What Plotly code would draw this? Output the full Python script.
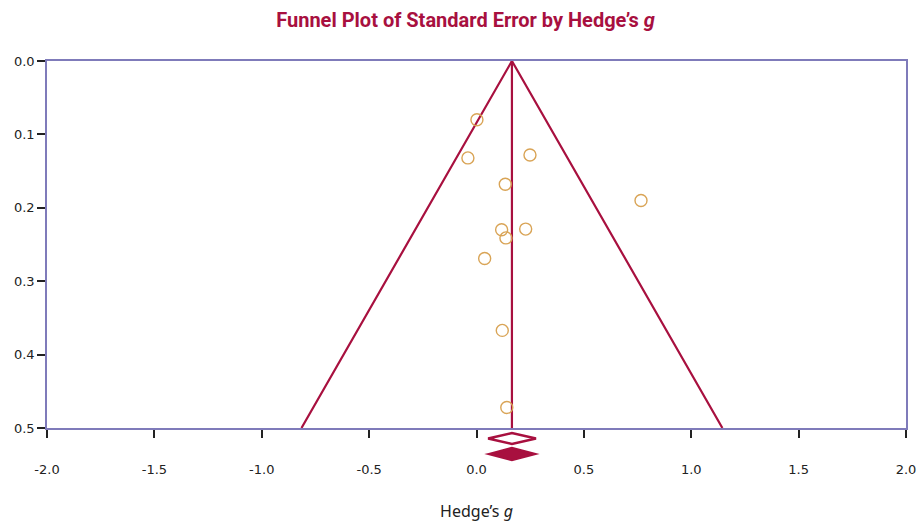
import plotly.graph_objects as go

# Study data (Hedge's g, standard error)
study_g = [0.002, -0.040, 0.249, 0.134, 0.766, 0.117, 0.229, 0.137, 0.038, 0.120, 0.141]
study_se = [0.080, 0.132, 0.128, 0.168, 0.190, 0.230, 0.229, 0.241, 0.269, 0.367, 0.472]

# Summary effect (observed, adjusted)
summary_point = [0.165, 0.165]
summary_lower = [0.054, 0.058]
summary_upper = [0.277, 0.272]

# Tick labels
x_ticks = [-2.0, -1.5, -1.0, -0.5, 0.0, 0.5, 1.0, 1.5, 2.0]
x_tick_labels = ["-2.0", "-1.5", "-1.0", "-0.5", "0.0", "0.5", "1.0", "1.5", "2.0"]
y_ticks = [0.0, 0.1, 0.2, 0.3, 0.4, 0.5]
y_tick_labels = ["0.0", "0.1", "0.2", "0.3", "0.4", "0.5"]

se_max = 0.5
z = 1.96
mean_g = summary_point[0]

crimson = "#A8103F"
gold = "#D9A456"
frame = "#7F7BBA"

fig = go.Figure()

# Funnel lines
fig.add_trace(go.Scatter(
    x=[mean_g - z * se_max, mean_g, mean_g + z * se_max],
    y=[se_max, 0, se_max],
    mode="lines", line=dict(color=crimson, width=2.2), hoverinfo="skip", showlegend=False))
fig.add_trace(go.Scatter(
    x=[mean_g, mean_g], y=[0, se_max],
    mode="lines", line=dict(color=crimson, width=2.2), hoverinfo="skip", showlegend=False))

# Studies
fig.add_trace(go.Scatter(
    x=study_g, y=study_se, mode="markers",
    marker=dict(symbol="circle-open", size=12, color=gold, line=dict(width=1.4, color=gold)),
    showlegend=False))

# Summary diamonds below the axis
diamond_centers = [-0.0286, -0.0710]
diamond_half = [0.0150, 0.0165]
fills = ["white", crimson]
shapes = []
for i in range(2):
    yc, h = diamond_centers[i], diamond_half[i]
    path = (f"M {summary_lower[i]},{yc} L {summary_point[i]},{yc + h} "
            f"L {summary_upper[i]},{yc} L {summary_point[i]},{yc - h} Z")
    shapes.append(dict(type="path", path=path, xref="x", yref="paper",
                       fillcolor=fills[i], line=dict(color=crimson, width=2.4)))

fig.update_layout(
    width=917, height=523,
    margin=dict(l=47, r=11, t=61, b=95, autoexpand=False),
    paper_bgcolor="white", plot_bgcolor="white",
    title=dict(text="Funnel Plot of Standard Error by Hedge’s <i>g</i>",
               x=465.5 / 917, xanchor="center", y=0.962, yanchor="middle",
               font=dict(family="Roboto", size=20, color=crimson, weight="bold")),
    shapes=shapes,
    font=dict(family="DejaVu Sans", size=13, color="#222"),
)

fig.update_xaxes(
    range=[-2, 2], tickvals=x_ticks, ticktext=x_tick_labels, automargin=False,
    showgrid=False, zeroline=False,
    showline=True, linecolor=frame, linewidth=1.5, mirror=True,
    ticks="outside", ticklen=8, tickcolor="#222", tickwidth=1.5,
    ticklabelstandoff=21,
    title=dict(text="Hedge’s <i>g</i>", standoff=29,
               font=dict(family="Noto Sans", size=16, color="#222")),
)
fig.update_yaxes(
    range=[0.5, 0], tickvals=y_ticks, ticktext=y_tick_labels, automargin=False,
    showgrid=False, zeroline=False,
    showline=True, linecolor=frame, linewidth=1.5, mirror=True,
    ticks="outside", ticklen=8, tickcolor="#222", tickwidth=1.5,
)

fig.write_html("out.html", config={"displayModeBar": False},
               post_script="document.body.style.margin='0';")
